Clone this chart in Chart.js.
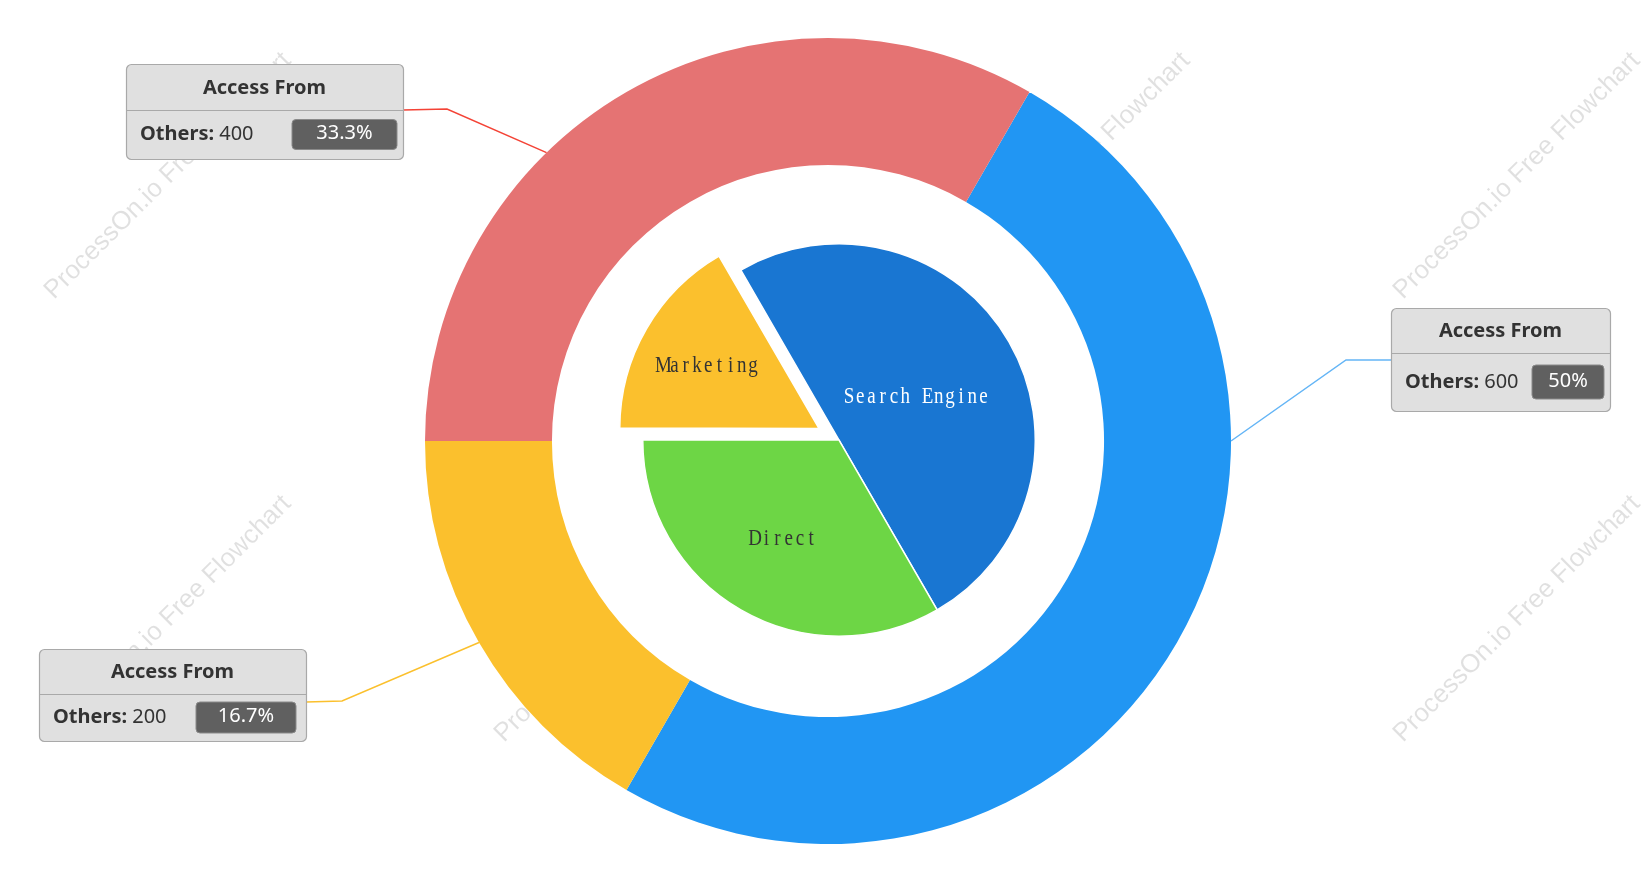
<!DOCTYPE html>
<html>
<head>
<meta charset="utf-8">
<script src="https://cdn.jsdelivr.net/npm/chart.js@4.4.0/dist/chart.umd.min.js"></script>
<style>
  html, body { margin: 0; padding: 0; background: #fff; }
  #wrap { position: relative; width: 1645px; height: 877px; overflow: hidden; }
  #wrap canvas { position: absolute; left: 0; top: 0; }
</style>
</head>
<body>
<div id="wrap">
  <canvas id="ring-chart" width="1645" height="877"></canvas>
  <canvas id="pie-chart" width="1645" height="877"></canvas>
</div>
<script>
// outer ring
const ringNames = ["Others", "Others", "Others"];
const ringValues = [600, 200, 400];
const ringColors = ["#2196f3", "#fbc02d", "#e57373"];

// inner pie
const pieLabels = ["Search Engine", "Direct", "Marketing"];
const pieValues = [600, 400, 200];
const pieColors = ["#1976d2", "#6dd645", "#fbc02d"];

const calloutTitle = "Access From";
const watermarkText = "ProcessOn.io Free Flowchart";

const ringTotal = ringValues.reduce((a, b) => a + b, 0);
const pct = (v) => Math.round((v / ringTotal) * 1000) / 10 + "%";

// callout boxes, one per ring slice (same order as ringValues)
const callouts = [
  { angle: 90, line: "#64b5f6", elbow: [1346, 360], attach: [1391, 360],
    box: { x: 1391, y: 308, w: 219, h: 103, head: 45, badgeW: 72, badgeH: 34, badgeRight: 6 } },
  { angle: 240, line: "#fbc02d", elbow: [342, 701], attach: [306, 702],
    box: { x: 39, y: 649, w: 267, h: 92, head: 45, badgeW: 100, badgeH: 31, badgeRight: 10 } },
  { angle: 315.7, line: "#f44336", elbow: [447, 109], attach: [403, 110],
    box: { x: 126, y: 64, w: 277, h: 95, head: 46, badgeW: 105, badgeH: 30, badgeRight: 6 } },
];

const roundRect = (ctx, x, y, w, h, r) => {
  ctx.beginPath();
  ctx.moveTo(x + r, y);
  ctx.arcTo(x + w, y, x + w, y + h, r);
  ctx.arcTo(x + w, y + h, x, y + h, r);
  ctx.arcTo(x, y + h, x, y, r);
  ctx.arcTo(x, y, x + w, y, r);
  ctx.closePath();
};

const watermark = {
  id: "watermark",
  beforeDraw(chart) {
    const ctx = chart.ctx;
    ctx.save();
    ctx.fillStyle = "rgba(0,0,0,0.12)";
    ctx.font = '26px "Liberation Sans", Arial, sans-serif';
    ctx.textBaseline = "alphabetic";
    ctx.textAlign = "left";
    [54, 504, 953, 1403].forEach((x) => {
      [300, 743].forEach((y) => {
        ctx.save();
        ctx.translate(x, y);
        ctx.rotate(-Math.PI / 4);
        ctx.fillText(watermarkText, 0, 0);
        ctx.restore();
      });
    });
    ctx.restore();
  },
  // the chart disc sits on white, so the watermark does not show in the hole
  beforeDatasetsDraw(chart) {
    const arc = chart.getDatasetMeta(0).data[0];
    const ctx = chart.ctx;
    ctx.save();
    ctx.fillStyle = "#ffffff";
    ctx.beginPath();
    ctx.arc(arc.x, arc.y, arc.outerRadius, 0, Math.PI * 2);
    ctx.fill();
    ctx.restore();
  },
};

const ringCallouts = {
  id: "ringCallouts",
  afterDraw(chart) {
    const ctx = chart.ctx;
    const arcs = chart.getDatasetMeta(0).data;
    ctx.save();
    callouts.forEach((c, i) => {
      const arc = arcs[i];
      const t = ((c.angle - 90) * Math.PI) / 180;
      const px = arc.x + arc.outerRadius * Math.cos(t);
      const py = arc.y + arc.outerRadius * Math.sin(t);
      ctx.strokeStyle = c.line;
      ctx.lineWidth = 1.5;
      ctx.beginPath();
      ctx.moveTo(px, py);
      ctx.lineTo(c.elbow[0], c.elbow[1]);
      ctx.lineTo(c.attach[0], c.attach[1]);
      ctx.stroke();

      const b = c.box;
      roundRect(ctx, b.x + 0.5, b.y + 0.5, b.w, b.h, 5);
      ctx.fillStyle = "#e0e0e0";
      ctx.fill();
      ctx.strokeStyle = "#a9a9a9";
      ctx.lineWidth = 1.2;
      ctx.stroke();
      ctx.beginPath();
      ctx.moveTo(b.x + 0.5, b.y + b.head + 0.5);
      ctx.lineTo(b.x + b.w + 0.5, b.y + b.head + 0.5);
      ctx.stroke();

      ctx.fillStyle = "#333";
      ctx.textBaseline = "middle";
      ctx.textAlign = "center";
      ctx.font = 'bold 20px "Noto Sans", sans-serif';
      ctx.fillText(calloutTitle, b.x + b.w / 2, b.y + b.head / 2 + 1);

      const rowY = b.y + b.head + (b.h - b.head) / 2;
      ctx.textAlign = "left";
      const name = ringNames[i] + ":";
      ctx.fillText(name, b.x + 14, rowY);
      const nw = ctx.measureText(name).width;
      ctx.font = '20px "Noto Sans", sans-serif';
      ctx.fillText(" " + ringValues[i], b.x + 14 + nw, rowY);

      const bx = b.x + b.w - b.badgeRight - b.badgeW;
      const by = rowY - b.badgeH / 2;
      roundRect(ctx, bx, by, b.badgeW, b.badgeH, 4);
      ctx.fillStyle = "#606060";
      ctx.fill();
      ctx.strokeStyle = "#8a8a8a";
      ctx.lineWidth = 1;
      ctx.stroke();
      ctx.fillStyle = "#fff";
      ctx.textAlign = "center";
      ctx.fillText(pct(ringValues[i]), bx + b.badgeW / 2, rowY - 1);
    });
    ctx.restore();
  },
};

// label distance from centre, as a share of the pie radius
const pieLabelRadius = [0.455, 0.57, 0.637];
const pieLabelColors = ["#ffffff", "#333333", "#333333"];

// how far Chart.js actually moves an arc for a given "offset" option
const drawnOffset = (arc) => {
  const off = (arc.options.offset || 0) / 4;
  const circ = arc.endAngle - arc.startAngle;
  return off * (2 - Math.sin(Math.min(Math.PI, circ)));
};

// serif text laid out on a fixed character pitch (looks like SimSun)
const monoText = (ctx, text, cx, cy, pitch) => {
  const start = cx - (text.length * pitch) / 2 + pitch / 2;
  [...text].forEach((ch, k) => ctx.fillText(ch, start + k * pitch, cy));
};

const pieNames = {
  id: "pieNames",
  afterDatasetsDraw(chart) {
    const ctx = chart.ctx;
    ctx.save();
    ctx.font = '19px "Liberation Serif", "DejaVu Serif", serif';
    ctx.textAlign = "center";
    ctx.textBaseline = "middle";
    chart.getDatasetMeta(0).data.forEach((arc, i) => {
      const mid = (arc.startAngle + arc.endAngle) / 2;
      const d = pieLabelRadius[i] * arc.outerRadius + drawnOffset(arc);
      ctx.save();
      ctx.translate(arc.x + d * Math.cos(mid), arc.y + d * Math.sin(mid) + 2);
      ctx.scale(1, 1.2);
      ctx.fillStyle = pieLabelColors[i];
      monoText(ctx, pieLabels[i], 0, 0, 11.2);
      ctx.restore();
    });
    ctx.restore();
  },
};

const ringChart = new Chart(document.getElementById("ring-chart"), {
  type: "doughnut",
  data: {
    labels: ringNames,
    datasets: [
      {
        data: ringValues,
        backgroundColor: ringColors,
        borderWidth: 0,
        hoverOffset: 0,
      },
    ],
  },
  options: {
    responsive: false,
    animation: false,
    rotation: 30,
    cutout: "68.5%",
    layout: { padding: { left: 425, right: 414, top: 38, bottom: 33 } },
    plugins: { legend: { display: false }, tooltip: { enabled: false } },
  },
  plugins: [watermark, ringCallouts],
});

const pieChart = new Chart(document.getElementById("pie-chart"), {
  type: "pie",
  data: {
    labels: pieLabels,
    datasets: [
      {
        data: pieValues,
        backgroundColor: pieColors,
        borderColor: "#ffffff",
        borderWidth: 1.5,
        offset: [0, 0, 92],
        hoverOffset: 0,
      },
    ],
  },
  options: {
    responsive: false,
    animation: false,
    rotation: -30,
    layout: { padding: { left: 596, right: 563, top: 197, bottom: 194 } },
    plugins: { legend: { display: false }, tooltip: { enabled: false } },
  },
  plugins: [pieNames],
});
</script>
</body>
</html>
